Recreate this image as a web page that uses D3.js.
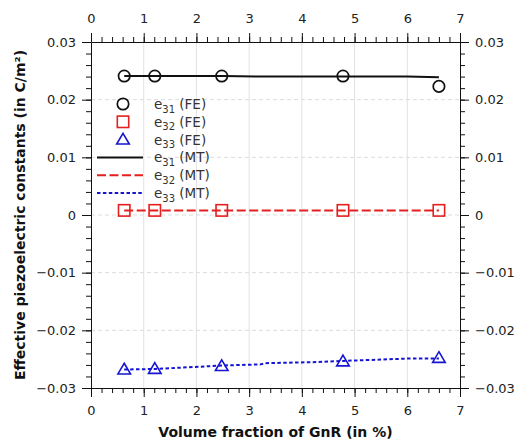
<!DOCTYPE html>
<html>
<head>
<meta charset="utf-8">
<script src="https://cdn.jsdelivr.net/npm/d3@7"></script>
<style>
  html, body { margin: 0; padding: 0; background: #fff; }
  svg { display: block; font-family: "DejaVu Sans", sans-serif; }
</style>
</head>
<body>
<svg id="chart" width="519" height="441"></svg>
<script>
// Volume fraction of GnR (%) for the finite-element samples
const feFraction = [0.63, 1.21, 2.48, 4.78, 6.6];
const e31FE = [0.0241, 0.0241, 0.0241, 0.0241, 0.0223];
const e32FE = [0.0008, 0.0008, 0.0008, 0.0008, 0.0008];
const e33FE = [-0.0268, -0.0267, -0.0262, -0.0254, -0.0248];

// Mori-Tanaka curves
const mtFraction = [0.63, 1.21, 2.5, 3.22, 3.3, 4.3, 4.8, 5.4, 6.0, 6.6];
const e31MT = [0.0241, 0.0241, 0.0241, 0.0240, 0.0240, 0.0240, 0.0240, 0.0240, 0.0240, 0.0239];
const e32MT = [0.0008, 0.0008, 0.0008, 0.0008, 0.0008, 0.0008, 0.0008, 0.0008, 0.0008, 0.0008];
const e33MT = [-0.0268, -0.0267, -0.0261, -0.0259, -0.0257, -0.0255, -0.0253, -0.0251, -0.0249, -0.0249];

const xTicks = [0, 1, 2, 3, 4, 5, 6, 7];
const yTicks = [-0.03, -0.02, -0.01, 0, 0.01, 0.02, 0.03];

const legendItems = [
  { sym: "e", sub: "31", tag: "(FE)", kind: "circle" },
  { sym: "e", sub: "32", tag: "(FE)", kind: "square" },
  { sym: "e", sub: "33", tag: "(FE)", kind: "triangle" },
  { sym: "e", sub: "31", tag: "(MT)", kind: "solid" },
  { sym: "e", sub: "32", tag: "(MT)", kind: "dashed" },
  { sym: "e", sub: "33", tag: "(MT)", kind: "dotted" }
];

const BLACK = "#111", RED = "#e41f1f", BLUE = "#1414d2";
const TEXT = "#222";

const L = 91, T = 42, R = 460, B = 388;
const svg = d3.select("#chart");

const x = d3.scaleLinear().domain([0, 7]).range([L, R]);
const y = d3.scaleLinear().domain([-0.03, 0.03]).range([B, T]);

// grid
const grid = svg.append("g");
grid.selectAll("line.vx").data(xTicks.slice(1, -1)).join("line")
  .attr("x1", d => x(d)).attr("x2", d => x(d)).attr("y1", T).attr("y2", B)
  .attr("stroke", "#e2e2e2").attr("stroke-width", 1);
grid.selectAll("line.hy").data(yTicks.slice(1, -1)).join("line")
  .attr("x1", L).attr("x2", R).attr("y1", d => y(d)).attr("y2", d => y(d))
  .attr("stroke", "#dcdcdc").attr("stroke-width", 1).attr("stroke-dasharray", "4,3");

// axes
const fmtY = d => d === 0 ? "0" : d3.format(".2f")(d).replace("-", "\u2212");
const xMinor = d3.range(0, 7.0001, 0.2);
const yMinor = d3.range(-0.03, 0.03001, 0.002);

function styleAxis(g) {
  g.select(".domain").attr("stroke", BLACK).attr("stroke-width", 1);
  g.selectAll(".tick line").attr("stroke", BLACK).attr("stroke-width", 1);
  g.selectAll(".tick text").attr("fill", TEXT).attr("font-size", 13)
    .attr("font-family", "DejaVu Sans, sans-serif");
}
function minor(g) {
  g.select(".domain").remove();
  g.selectAll(".tick text").remove();
  g.selectAll(".tick line").attr("stroke", BLACK).attr("stroke-width", 1);
}

svg.append("g").attr("transform", `translate(0,${B})`)
  .call(d3.axisBottom(x).tickValues(xMinor).tickSize(5)).call(minor);
svg.append("g").attr("transform", `translate(0,${T})`)
  .call(d3.axisTop(x).tickValues(xMinor).tickSize(5)).call(minor);
svg.append("g").attr("transform", `translate(${L},0)`)
  .call(d3.axisLeft(y).tickValues(yMinor).tickSize(5)).call(minor);
svg.append("g").attr("transform", `translate(${R},0)`)
  .call(d3.axisRight(y).tickValues(yMinor).tickSize(5)).call(minor);

svg.append("g").attr("transform", `translate(0,${B})`)
  .call(d3.axisBottom(x).tickValues(xTicks).tickFormat(d3.format("d")).tickSize(9).tickSizeOuter(0).tickPadding(9))
  .call(styleAxis);
svg.append("g").attr("transform", `translate(0,${T})`)
  .call(d3.axisTop(x).tickValues(xTicks).tickFormat(d3.format("d")).tickSize(9).tickSizeOuter(0).tickPadding(10))
  .call(styleAxis);
svg.append("g").attr("transform", `translate(${L},0)`)
  .call(d3.axisLeft(y).tickValues(yTicks).tickFormat(fmtY).tickSize(9).tickSizeOuter(0).tickPadding(6))
  .call(styleAxis);
svg.append("g").attr("transform", `translate(${R},0)`)
  .call(d3.axisRight(y).tickValues(yTicks).tickFormat(fmtY).tickSize(9).tickSizeOuter(0).tickPadding(6))
  .call(styleAxis);

// axis titles
svg.append("text").attr("x", (L + R) / 2).attr("y", 437)
  .attr("text-anchor", "middle").attr("font-weight", "bold").attr("font-size", 14)
  .attr("fill", BLACK).text("Volume fraction of GnR (in %)");
svg.append("text").attr("transform", `translate(25,${(T + B) / 2}) rotate(-90)`)
  .attr("text-anchor", "middle").attr("font-weight", "bold").attr("font-size", 14)
  .attr("fill", BLACK)
  .text("Effective piezoelectric constants (in C/m\u00B2)");

// model lines
const line = d3.line().x(d => x(d[0])).y(d => y(d[1]));
const zip = (a, b) => a.map((v, i) => [v, b[i]]);
svg.append("path").datum(zip(mtFraction, e31MT)).attr("d", line)
  .attr("fill", "none").attr("stroke", BLACK).attr("stroke-width", 2);
svg.append("path").datum(zip(mtFraction, e32MT)).attr("d", line)
  .attr("fill", "none").attr("stroke", RED).attr("stroke-width", 2).attr("stroke-dasharray", "9,3.5");
svg.append("path").datum(zip(mtFraction, e33MT)).attr("d", line)
  .attr("fill", "none").attr("stroke", BLUE).attr("stroke-width", 2).attr("stroke-dasharray", "3.5,2.4");

// markers
function marker(g, kind, cx, cy) {
  if (kind === "circle") {
    g.append("circle").attr("cx", cx).attr("cy", cy).attr("r", 5.7)
      .attr("fill", "none").attr("stroke", BLACK).attr("stroke-width", 1.7);
  } else if (kind === "square") {
    g.append("rect").attr("x", cx - 5.7).attr("y", cy - 5.7).attr("width", 11.4).attr("height", 11.4)
      .attr("fill", "none").attr("stroke", RED).attr("stroke-width", 1.6);
  } else if (kind === "triangle") {
    const s = 6.3;
    g.append("path").attr("d", `M${cx},${cy - s}L${cx + s},${cy + s * 0.7}L${cx - s},${cy + s * 0.7}Z`)
      .attr("fill", "none").attr("stroke", BLUE).attr("stroke-width", 1.6);
  }
}
const mk = svg.append("g");
feFraction.forEach((f, i) => marker(mk, "circle", x(f), y(e31FE[i])));
feFraction.forEach((f, i) => marker(mk, "square", x(f), y(e32FE[i])));
feFraction.forEach((f, i) => marker(mk, "triangle", x(f), y(e33FE[i])));

// legend
const leg = svg.append("g");
legendItems.forEach((it, i) => {
  const cy = 104 + i * 17.8;
  if (it.kind === "solid" || it.kind === "dashed" || it.kind === "dotted") {
    const col = it.kind === "solid" ? BLACK : it.kind === "dashed" ? RED : BLUE;
    const dash = it.kind === "solid" ? null : it.kind === "dashed" ? "9,3.5" : "3.5,2.4";
    leg.append("line").attr("x1", 97).attr("x2", 143).attr("y1", cy).attr("y2", cy)
      .attr("stroke", col).attr("stroke-width", 2).attr("stroke-dasharray", dash);
  } else {
    marker(leg, it.kind, 123, cy);
  }
  const t = leg.append("text").attr("x", 154).attr("y", cy + 5)
    .attr("font-size", 13.5).attr("fill", "#333");
  t.append("tspan").text(it.sym);
  t.append("tspan").attr("font-size", 10).attr("dy", 3.5).text(it.sub);
  t.append("tspan").attr("dy", -3.5).text(" " + it.tag);
});
</script>
</body>
</html>
